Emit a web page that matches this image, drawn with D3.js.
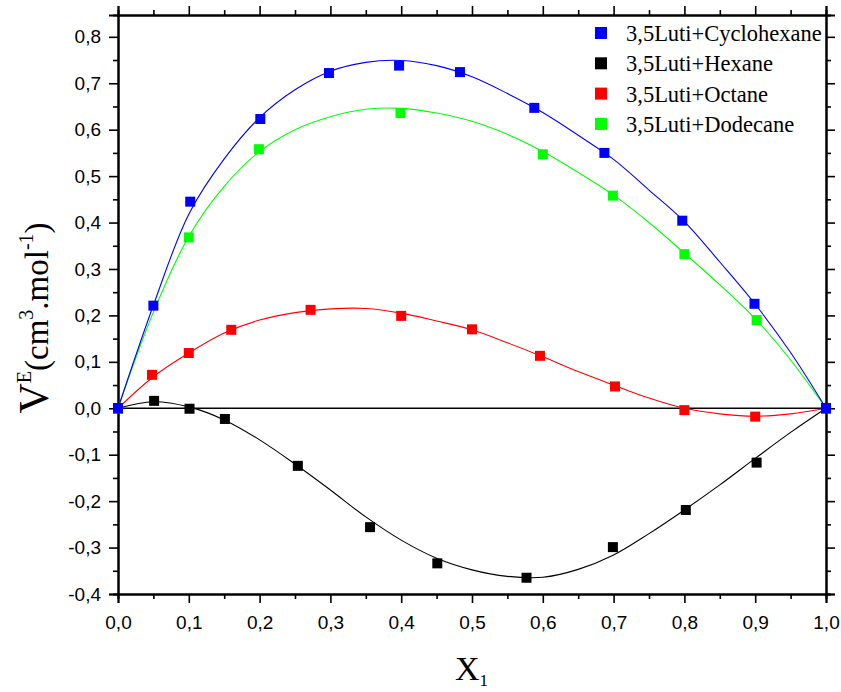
<!DOCTYPE html>
<html>
<head>
<meta charset="utf-8">
<script src="https://cdn.jsdelivr.net/npm/d3@7"></script>
<style>
  html, body { margin: 0; padding: 0; background: #fff; }
  svg { display: block; }
  .tick text { font-family: "Liberation Sans", Arial, sans-serif; }
</style>
</head>
<body>
<svg id="chart" width="841" height="692"></svg>
<script>
// Excess molar volume of 3,5-lutidine binary mixtures vs mole fraction X1

const xTicks = [0, 0.1, 0.2, 0.3, 0.4, 0.5, 0.6, 0.7, 0.8, 0.9, 1.0];
const yTicks = [-0.4, -0.3, -0.2, -0.1, 0, 0.1, 0.2, 0.3, 0.4, 0.5, 0.6, 0.7, 0.8];

const seriesNames = ["3,5Luti+Cyclohexane", "3,5Luti+Hexane", "3,5Luti+Octane", "3,5Luti+Dodecane"];
const seriesColors = ["#0000ff", "#000000", "#ff0000", "#00ff00"];

// measured points
const cycloX = [0, 0.050, 0.102, 0.201, 0.298, 0.397, 0.483, 0.588, 0.687, 0.797, 0.899, 1.0];
const cycloY = [0, 0.221, 0.445, 0.623, 0.722, 0.738, 0.724, 0.647, 0.550, 0.404, 0.225, 0];
const hexX = [0, 0.051, 0.101, 0.151, 0.254, 0.356, 0.451, 0.577, 0.699, 0.802, 0.902, 1.0];
const hexY = [0, 0.016, -0.001, -0.023, -0.124, -0.256, -0.334, -0.365, -0.299, -0.219, -0.117, 0];
const octX = [0, 0.048, 0.100, 0.160, 0.272, 0.400, 0.500, 0.596, 0.702, 0.800, 0.900, 1.0];
const octY = [0, 0.072, 0.119, 0.169, 0.212, 0.199, 0.170, 0.113, 0.047, -0.004, -0.018, 0];
const dodX = [0, 0.100, 0.199, 0.399, 0.600, 0.699, 0.800, 0.902, 1.0];
const dodY = [0, 0.368, 0.558, 0.636, 0.547, 0.458, 0.332, 0.190, 0];

// smoothed fit curves, sampled every 0.05
const fitX = [0, 0.05, 0.1, 0.15, 0.2, 0.25, 0.3, 0.35, 0.4, 0.45, 0.5, 0.55, 0.6, 0.65, 0.7, 0.75, 0.8, 0.85, 0.9, 0.95, 1.0];
const cycloFit = [0, 0.222, 0.418, 0.537, 0.626, 0.686, 0.726, 0.745, 0.749, 0.738, 0.714, 0.678, 0.637, 0.588, 0.536, 0.470, 0.402, 0.315, 0.224, 0.120, 0];
const hexFit = [0, 0.014, 0.003, -0.025, -0.068, -0.120, -0.176, -0.234, -0.284, -0.323, -0.348, -0.362, -0.364, -0.347, -0.316, -0.270, -0.219, -0.165, -0.108, -0.052, 0];
const octFit = [0, 0.068, 0.119, 0.162, 0.190, 0.206, 0.214, 0.215, 0.205, 0.188, 0.169, 0.141, 0.111, 0.079, 0.050, 0.022, 0.000, -0.012, -0.017, -0.012, 0];
const dodFit = [0, 0.207, 0.370, 0.478, 0.553, 0.600, 0.628, 0.644, 0.646, 0.636, 0.618, 0.590, 0.553, 0.508, 0.459, 0.400, 0.334, 0.266, 0.193, 0.104, 0];

const svg = d3.select("#chart");
const plotL = 118, plotR = 826, plotT = 15, plotB = 594;

const x = d3.scaleLinear().domain([0, 1]).range([plotL, plotR]);
const y = d3.scaleLinear().domain([-0.4, 0.847]).range([plotB, plotT]);

const fmt = d => d3.format(".1f")(d).replace(".", ",").replace("\u2212", "-");
const xMinor = d3.range(0.05, 1, 0.1);
const yMinor = d3.range(-0.35, 0.85, 0.1);

// plot frame with major/minor ticks on all sides
function axisGroup(axisFn, scale, ticks, minor, transform, labels, pad) {
  const g = svg.append("g").attr("transform", transform);
  g.call(axisFn(scale).tickValues(minor).tickSize(5).tickFormat(""));
  const gm = svg.append("g").attr("transform", transform);
  gm.call(axisFn(scale).tickValues(ticks).tickSize(9).tickPadding(pad || 6)
    .tickFormat(labels ? fmt : ""));
  [g, gm].forEach(a => {
    a.select(".domain").attr("stroke", "#000").attr("stroke-width", 2);
    a.selectAll(".tick line").attr("stroke", "#000").attr("stroke-width", 1.6);
  });
  return gm;
}

const gx = axisGroup(d3.axisBottom, x, xTicks, xMinor, `translate(0,${plotB})`, true, 13);
gx.selectAll(".tick text").attr("font-size", 19).attr("fill", "#000");
axisGroup(d3.axisTop, x, xTicks, xMinor, `translate(0,${plotT})`, false);
const gy = axisGroup(d3.axisLeft, y, yTicks, yMinor, `translate(${plotL},0)`, true, 8);
gy.selectAll(".tick text").attr("font-size", 19).attr("fill", "#000");
axisGroup(d3.axisRight, y, yTicks, yMinor, `translate(${plotR},0)`, false);

// zero reference line
svg.append("line")
  .attr("x1", x(0)).attr("x2", x(1)).attr("y1", y(0)).attr("y2", y(0))
  .attr("stroke", "#000").attr("stroke-width", 1.6);

const line = d3.line().x(d => x(d[0])).y(d => y(d[1])).curve(d3.curveCatmullRom.alpha(0.5));

const fits = [cycloFit, hexFit, octFit, dodFit];
const pts = [[cycloX, cycloY], [hexX, hexY], [octX, octY], [dodX, dodY]];

// draw order: dodecane, octane, hexane, cyclohexane on top
[3, 2, 1, 0].forEach(i => {
  svg.append("path")
    .datum(fitX.map((v, k) => [v, fits[i][k]]))
    .attr("fill", "none").attr("stroke", seriesColors[i]).attr("stroke-width", 1.1)
    .attr("d", line);
});
[3, 2, 1, 0].forEach(i => {
  const [px, py] = pts[i];
  svg.append("g").selectAll("rect")
    .data(px.map((v, k) => [v, py[k]]))
    .join("rect")
    .attr("x", d => x(d[0]) - 5).attr("y", d => y(d[1]) - 5)
    .attr("width", 10).attr("height", 10)
    .attr("fill", seriesColors[i]);
});

// legend
const serif = "'Liberation Serif', 'Times New Roman', serif";
const lg = svg.append("g");
seriesNames.forEach((name, i) => {
  const cy = 33 + i * 30.3;
  lg.append("rect").attr("x", 595).attr("y", cy - 6).attr("width", 12).attr("height", 12)
    .attr("fill", seriesColors[i]);
  lg.append("text").attr("x", 626).attr("y", cy + 8)
    .attr("font-family", serif)
    .attr("font-size", 22.5).attr("fill", "#000").text(name);
});

// axis titles
const xt = svg.append("text").attr("x", 455).attr("y", 680)
  .attr("font-family", serif).attr("font-size", 34).attr("fill", "#000");
xt.append("tspan").text("X");
xt.append("tspan").attr("font-size", 17).attr("dy", 6).text("1");

const yt = svg.append("text")
  .attr("transform", "translate(48,318) rotate(-90)")
  .attr("text-anchor", "middle")
  .attr("font-family", serif).attr("font-size", 33).attr("fill", "#000");
yt.append("tspan").attr("font-size", 42).text("V");
yt.append("tspan").attr("font-size", 20).attr("dy", -17).text("E");
yt.append("tspan").attr("dy", 17).text("(cm");
yt.append("tspan").attr("font-size", 20).attr("dy", -15).text("3");
yt.append("tspan").attr("dy", 15).text(".mol");
yt.append("tspan").attr("font-size", 20).attr("dy", -15).text("-1");
yt.append("tspan").attr("dy", 15).text(")");
</script>
</body>
</html>
